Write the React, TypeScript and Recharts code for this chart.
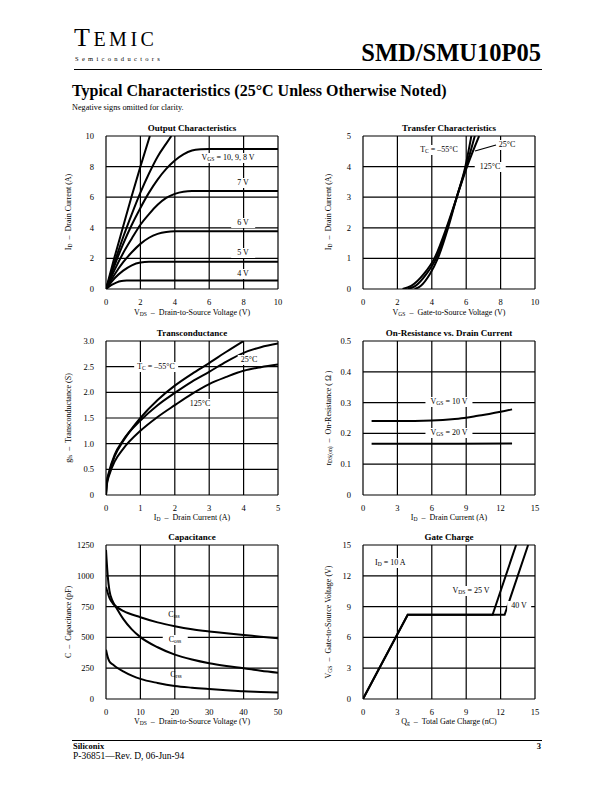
import React from 'react';
import { LineChart, Line, XAxis, YAxis, CartesianGrid } from 'recharts';

const FONT = '"Liberation Serif", "Times New Roman", serif';

type Pt = { x: number; y: number };
const pts = (arr: number[][]): Pt[] => arr.map(([x, y]) => ({ x, y }));

// Output characteristics (VDS, ID)
const OUT_X_TICKS = [0, 2, 4, 6, 8, 10];
const OUT_Y_TICKS = [0, 2, 4, 6, 8, 10];
const OUT_VGS10 = pts([[0, 0], [0.5, 2.1], [1, 4.1], [1.5, 6.1], [2, 8.0], [2.55, 10]]);
const OUT_VGS9 = pts([[0, 0], [0.5, 1.75], [1, 3.4], [1.5, 4.9], [2, 6.3], [2.5, 7.55], [3, 8.65], [3.5, 9.5], [3.8, 10]]);
const OUT_VGS8 = pts([[0, 0], [0.5, 1.55], [1, 2.95], [1.5, 4.2], [2, 5.3], [2.5, 6.3], [3, 7.15], [3.5, 7.85], [4, 8.4], [4.5, 8.8], [5, 9.05], [5.5, 9.13], [6, 9.15], [10, 9.15]]);
const OUT_VGS7 = pts([[0, 0], [0.5, 1.25], [1, 2.35], [1.5, 3.3], [2, 4.2], [2.5, 4.9], [3, 5.5], [3.5, 5.95], [4, 6.22], [4.5, 6.36], [5, 6.4], [10, 6.4]]);
const OUT_VGS6 = pts([[0, 0], [0.5, 0.95], [1, 1.75], [1.5, 2.4], [2, 2.95], [2.5, 3.35], [3, 3.6], [3.5, 3.73], [4, 3.77], [10, 3.77]]);
const OUT_VGS5 = pts([[0, 0], [0.5, 0.7], [1, 1.2], [1.5, 1.55], [2, 1.73], [2.5, 1.78], [10, 1.78]]);
const OUT_VGS4 = pts([[0, 0], [0.3, 0.25], [0.6, 0.42], [0.9, 0.52], [1.2, 0.55], [1.6, 0.56], [10, 0.56]]);

// Transfer characteristics (VGS, ID)
const TR_X_TICKS = [0, 2, 4, 6, 8, 10];
const TR_Y_TICKS = [0, 1, 2, 3, 4, 5];
const TR_M55 = pts([[3.0, 0], [3.35, 0.1], [3.9, 0.5], [4.35, 1], [4.95, 2], [5.45, 3], [5.95, 4], [6.3, 5]]);
const TR_25 = pts([[2.6, 0], [3.05, 0.1], [3.7, 0.5], [4.25, 1], [4.9, 2], [5.45, 3], [6.0, 4], [6.5, 5]]);
const TR_125 = pts([[2.3, 0], [2.8, 0.1], [3.55, 0.5], [4.15, 1], [4.85, 2], [5.45, 3], [6.05, 4], [6.75, 5]]);

// Transconductance (ID, gfs)
const GFS_X_TICKS = [0, 1, 2, 3, 4, 5];
const GFS_Y_TICKS = [0, 0.5, 1.0, 1.5, 2.0, 2.5, 3.0];
const GFS_M55 = pts([[0, 0], [0.02, 0.2], [0.1, 0.45], [0.25, 0.75], [0.5, 1.05], [1, 1.5], [1.5, 1.85], [2, 2.13], [2.5, 2.36], [3, 2.57], [3.5, 2.79], [4, 3.0]]);
const GFS_25 = pts([[0, 0], [0.02, 0.22], [0.1, 0.48], [0.25, 0.78], [0.5, 1.07], [1, 1.45], [1.5, 1.75], [2, 1.99], [2.5, 2.21], [3, 2.4], [3.5, 2.6], [4, 2.77], [4.5, 2.88], [5, 2.95]]);
const GFS_125 = pts([[0, 0], [0.02, 0.18], [0.1, 0.4], [0.25, 0.65], [0.5, 0.9], [1, 1.25], [1.5, 1.52], [2, 1.75], [2.5, 1.97], [3, 2.16], [3.5, 2.3], [4, 2.42], [4.5, 2.49], [5, 2.54]]);

// On-resistance (ID, rDS(on))
const RON_X_TICKS = [0, 3, 6, 9, 12, 15];
const RON_Y_TICKS = [0, 0.1, 0.2, 0.3, 0.4, 0.5];
const RON_VGS10 = pts([[0.75, 0.24], [3, 0.24], [6, 0.242], [8, 0.247], [9, 0.251], [10, 0.257], [11, 0.263], [12, 0.27], [13, 0.278]]);
const RON_VGS20 = pts([[0.75, 0.166], [6, 0.166], [13, 0.167]]);

// Capacitance (VDS, C)
const CAP_X_TICKS = [0, 10, 20, 30, 40, 50];
const CAP_Y_TICKS = [0, 250, 500, 750, 1000, 1250];
const CAP_CISS = pts([[0, 910], [1, 820], [2, 775], [3, 750], [5, 715], [10, 664], [15, 622], [20, 591], [25, 566], [30, 548], [35, 533], [40, 520], [45, 506], [50, 493]]);
const CAP_COSS = pts([[0, 1210], [0.5, 1000], [1, 880], [2, 790], [3, 740], [5, 650], [7.5, 565], [10, 502], [15, 420], [20, 360], [25, 320], [30, 290], [35, 268], [40, 250], [45, 230], [50, 214]]);
const CAP_CRSS = pts([[0, 400], [0.5, 340], [1, 305], [2, 280], [3, 258], [5, 225], [7.5, 190], [10, 163], [15, 130], [20, 106], [25, 92], [30, 81], [35, 71], [40, 62], [45, 57], [50, 52]]);

// Gate charge (Qg, VGS)
const GC_X_TICKS = [0, 3, 6, 9, 12, 15];
const GC_Y_TICKS = [0, 3, 6, 9, 12, 15];
const GC_VDS25 = pts([[0, 0], [3.9, 8.2], [11.3, 8.2], [13.35, 15]]);
const GC_VDS40 = pts([[0, 0], [3.9, 8.2], [12.35, 8.2], [14.4, 15]]);

const fmt1 = (v: number) => (v === 0 ? '0' : v.toFixed(1));

type PlotProps = {
  left: number; top: number; w: number; h: number;
  xDomain: [number, number]; xTicks: number[];
  yDomain: [number, number]; yTicks: number[];
  yFmt?: (v: number) => string;
  lines: Pt[][];
  curve?: 'monotone' | 'linear';
};

function Plot({ left, top, w, h, xDomain, xTicks, yDomain, yTicks, yFmt, lines, curve = 'monotone' }: PlotProps) {
  const YW = 34, MT = 8, MR = 10, XH = 20;
  const tick = { fontSize: 8.5, fill: '#000', fontFamily: FONT };
  return (
    <div style={{ position: 'absolute', left: left - YW, top: top - MT }}>
      <LineChart width={w + YW + MR} height={h + MT + XH} margin={{ top: MT, right: MR, bottom: 0, left: 0 }}>
        <CartesianGrid stroke="#000" strokeWidth={1.2} />
        <XAxis type="number" dataKey="x" domain={xDomain} ticks={xTicks} interval={0} allowDataOverflow
          tickLine={false} axisLine={false} tickMargin={4} height={XH} tick={tick} />
        <YAxis type="number" dataKey="y" domain={yDomain} ticks={yTicks} interval={0} allowDataOverflow
          tickLine={false} axisLine={false} tickMargin={6} width={YW} tick={tick} tickFormatter={yFmt} />
        {lines.map((d, i) => (
          <Line key={i} data={d} dataKey="y" type={curve} stroke="#000" strokeWidth={2}
            dot={false} activeDot={false} legendType="none" isAnimationActive={false} />
        ))}
      </LineChart>
    </div>
  );
}

type TxtProps = {
  x: number; y: number; size?: number; bold?: boolean; bg?: boolean;
  anchor?: 'start' | 'middle' | 'end'; rot?: boolean; pad?: number; spacing?: number;
  children: React.ReactNode;
};

function Txt({ x, y, size = 8, bold, bg, anchor = 'middle', rot, pad = 3, spacing, children }: TxtProps) {
  const tx = anchor === 'middle' ? '-50%' : anchor === 'end' ? '-100%' : '0';
  return (
    <div style={{
      position: 'absolute', left: x, top: y, whiteSpace: 'nowrap', lineHeight: 1.25,
      fontSize: size, fontWeight: bold ? 700 : 400, letterSpacing: spacing,
      transform: `translate(${tx}, -50%)${rot ? ' rotate(-90deg)' : ''}`,
      background: bg ? '#fff' : undefined, padding: bg ? `0 ${pad}px` : undefined,
    }}>
      {children}
    </div>
  );
}

const S = ({ children }: { children: React.ReactNode }) => (
  <span style={{ fontSize: '0.7em', verticalAlign: '-0.25em', lineHeight: 0 }}>{children}</span>
);

export default function App() {
  return (
    <div style={{ position: 'absolute', left: 0, top: 0, width: 612, height: 792, background: '#fff', fontFamily: FONT, color: '#000' }}>
      {/* header */}
      <div style={{ position: 'absolute', left: 74, top: 25, fontSize: 26, letterSpacing: 3.5, lineHeight: 1 }}>
        T<span style={{ fontSize: 20 }}>EMIC</span>
      </div>
      <Txt x={75} y={59} size={6.5} anchor="start" spacing={3.3}>Semiconductors</Txt>
      <Txt x={541} y={53} size={24.5} bold anchor="end">SMD/SMU10P05</Txt>
      <div style={{ position: 'absolute', left: 74, top: 69, width: 468, height: 1.3, background: '#000' }} />
      <Txt x={72} y={91} size={16} bold anchor="start">Typical Characteristics (25°C Unless Otherwise Noted)</Txt>
      <Txt x={72} y={108} size={8.2} anchor="start">Negative signs omitted for clarity.</Txt>

      {/* Output characteristics */}
      <Plot left={106} top={136} w={172} h={153} xDomain={[0, 10]} xTicks={OUT_X_TICKS} yDomain={[0, 10]} yTicks={OUT_Y_TICKS}
        lines={[OUT_VGS10, OUT_VGS9, OUT_VGS8, OUT_VGS7, OUT_VGS6, OUT_VGS5, OUT_VGS4]} />
      <Txt x={192} y={129} size={9} bold>Output Characteristics</Txt>
      <Txt x={69} y={212} rot>I<S>D</S> &nbsp;–&nbsp; Drain Current (A)</Txt>
      <Txt x={192} y={313}>V<S>DS</S> &nbsp;–&nbsp; Drain-to-Source Voltage (V)</Txt>
      <Txt x={228} y={158} bg>V<S>GS</S> = 10, 9, 8 V</Txt>
      <Txt x={243} y={183} bg pad={6}>7 V</Txt>
      <Txt x={243} y={223} bg pad={6}>6 V</Txt>
      <Txt x={243} y={253} bg pad={6}>5 V</Txt>
      <Txt x={243} y={274} bg pad={6}>4 V</Txt>

      {/* Transfer characteristics */}
      <Plot left={363} top={136} w={172} h={153} xDomain={[0, 10]} xTicks={TR_X_TICKS} yDomain={[0, 5]} yTicks={TR_Y_TICKS}
        lines={[TR_M55, TR_25, TR_125]} />
      <Txt x={449} y={129} size={9} bold>Transfer Characteristics</Txt>
      <Txt x={329} y={212} rot>I<S>D</S> &nbsp;–&nbsp; Drain Current (A)</Txt>
      <Txt x={449} y={313}>V<S>GS</S> &nbsp;–&nbsp; Gate-to-Source Voltage (V)</Txt>
      <Txt x={439} y={150} bg>T<S>C</S> = –55°C</Txt>
      <Txt x={507} y={145} bg pad={1}>25°C</Txt>
      <Txt x={490} y={167} bg pad={5}>125°C</Txt>
      <svg style={{ position: 'absolute', left: 0, top: 0 }} width={612} height={792} pointerEvents="none">
        <line x1={496} y1={145} x2={475} y2={151} stroke="#000" strokeWidth={1.2} />
      </svg>

      {/* Transconductance */}
      <Plot left={106} top={341} w={172} h={154} xDomain={[0, 5]} xTicks={GFS_X_TICKS} yDomain={[0, 3]} yTicks={GFS_Y_TICKS}
        yFmt={fmt1} lines={[GFS_M55, GFS_25, GFS_125]} />
      <Txt x={192} y={334} size={9} bold>Transconductance</Txt>
      <Txt x={69} y={418} rot>g<S>fs</S> &nbsp;–&nbsp; Transconductance (S)</Txt>
      <Txt x={192} y={518}>I<S>D</S> &nbsp;–&nbsp; Drain Current (A)</Txt>
      <Txt x={156} y={367} bg>T<S>C</S> = –55°C</Txt>
      <Txt x={249} y={360} bg>25°C</Txt>
      <Txt x={200} y={404} bg pad={1}>125°C</Txt>

      {/* On-resistance */}
      <Plot left={363} top={341} w={172} h={154} xDomain={[0, 15]} xTicks={RON_X_TICKS} yDomain={[0, 0.5]} yTicks={RON_Y_TICKS}
        yFmt={fmt1} lines={[RON_VGS10, RON_VGS20]} />
      <Txt x={449} y={334} size={9} bold>On-Resistance vs. Drain Current</Txt>
      <Txt x={329} y={418} rot>r<S>DS(on)</S> &nbsp;–&nbsp; On-Resistance ( Ω )</Txt>
      <Txt x={449} y={518}>I<S>D</S> &nbsp;–&nbsp; Drain Current (A)</Txt>
      <Txt x={449} y={402} bg pad={5}>V<S>GS</S> = 10 V</Txt>
      <Txt x={449} y={433} bg pad={5}>V<S>GS</S> = 20 V</Txt>

      {/* Capacitance */}
      <Plot left={106} top={545} w={172} h={154} xDomain={[0, 50]} xTicks={CAP_X_TICKS} yDomain={[0, 1250]} yTicks={CAP_Y_TICKS}
        lines={[CAP_CISS, CAP_COSS, CAP_CRSS]} />
      <Txt x={192} y={538} size={9} bold>Capacitance</Txt>
      <Txt x={69} y={622} rot>C &nbsp;–&nbsp; Capacitance (pF)</Txt>
      <Txt x={192} y={722}>V<S>DS</S> &nbsp;–&nbsp; Drain-to-Source Voltage (V)</Txt>
      <Txt x={174} y={615}>C<S>iss</S></Txt>
      <Txt x={175} y={640} bg pad={6}>C<S>oss</S></Txt>
      <Txt x={176} y={675}>C<S>rss</S></Txt>

      {/* Gate charge */}
      <Plot left={363} top={545} w={172} h={154} xDomain={[0, 15]} xTicks={GC_X_TICKS} yDomain={[0, 15]} yTicks={GC_Y_TICKS}
        curve="linear" lines={[GC_VDS25, GC_VDS40]} />
      <Txt x={449} y={538} size={9} bold>Gate Charge</Txt>
      <Txt x={329} y={622} rot>V<S>GS</S> &nbsp;–&nbsp; Gate-to-Source Voltage (V)</Txt>
      <Txt x={449} y={722}>Q<S>g</S> &nbsp;–&nbsp; Total Gate Charge (nC)</Txt>
      <Txt x={373} y={563} anchor="start" bg pad={2}>I<S>D</S> = 10 A</Txt>
      <Txt x={471} y={591} bg pad={2}>V<S>DS</S> = 25 V</Txt>
      <Txt x={519} y={606} bg pad={4}>40 V</Txt>

      {/* footer */}
      <div style={{ position: 'absolute', left: 72, top: 740, width: 470, height: 1.3, background: '#000' }} />
      <Txt x={73} y={746} size={8.5} bold anchor="start">Siliconix</Txt>
      <Txt x={541} y={746} size={8.5} bold anchor="end">3</Txt>
      <Txt x={73} y={757} size={9.5} anchor="start">P-36851—Rev. D, 06-Jun-94</Txt>
    </div>
  );
}
